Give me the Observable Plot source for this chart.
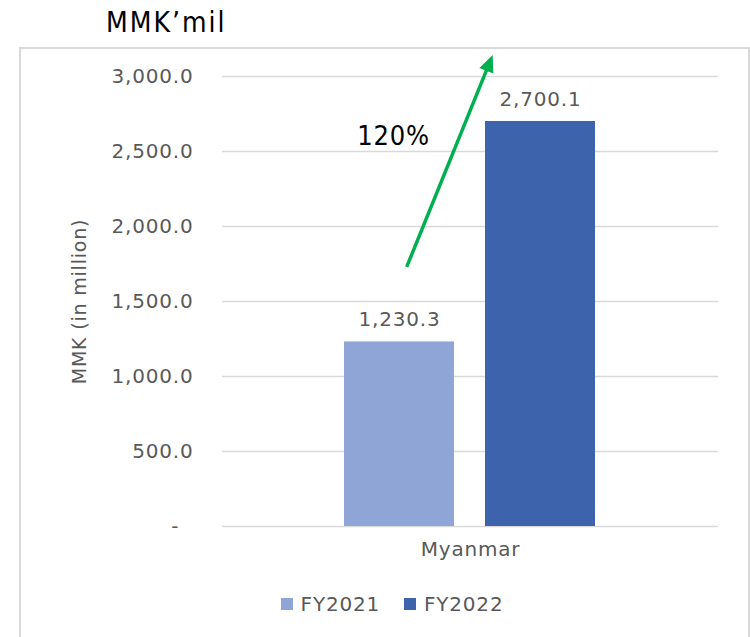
<!DOCTYPE html>
<html>
<head>
<meta charset="utf-8">
<script src="https://cdn.jsdelivr.net/npm/d3@7"></script>
<script src="https://cdn.jsdelivr.net/npm/@observablehq/plot@0.6"></script>
<style>
  html, body { margin: 0; padding: 0; background: #fff; }
  #page { position: relative; width: 750px; height: 637px; overflow: hidden; }
  #box { position: absolute; left: 19px; top: 47px; width: 727px; height: 600px; border: 2px solid #d9d9d9; }
  #title { position: absolute; left: 106px; top: 6px; font-family: "DejaVu Sans Condensed", "DejaVu Sans", sans-serif; font-stretch: condensed; font-size: 28px; letter-spacing: 2px; color: #000; }
  #chart { position: absolute; left: 0; top: 0; }
  #legend { position: absolute; left: 32px; width: 720px; top: 592px; display: flex; justify-content: center; align-items: center;
            font-family: "DejaVu Sans", sans-serif; font-size: 20px; letter-spacing: 0.8px; color: #595959; }
  .sw { width: 12px; height: 12px; margin-right: 8px; }
  .item { display: flex; align-items: center; margin: 0 12px; }
</style>
</head>
<body>
<div id="page">
  <div id="box"></div>
  <div id="chart"></div>
  <div id="title"></div>
  <div id="legend"></div>
</div>
<script>
// ---- data ----
const titleText = "MMK’mil";
const yLabel = "MMK (in million)";
const categories = ["Myanmar"];
const years = ["FY2021", "FY2022"];
const values = [1230.3, 2700.1];
const colors = ["#8EA5D5", "#3C63AC"];
const yTicks = [0, 500, 1000, 1500, 2000, 2500, 3000];
const growthLabel = ["120%"];
const growthLabelValue = [2600];
// arrow annotation: positions as fraction within band + value on y scale
const arrowFromYear = ["FY2021"];
const arrowFromPos = [0.57];
const arrowFromValue = [1727];
const arrowToYear = ["FY2022"];
const arrowToPos = [0.07];
const arrowToValue = [3140];

const data = years.map((y, i) => ({ year: y, value: values[i], category: categories[0] }));
const fmt = d3.format(",.1f");

const chart = Plot.plot({
  width: 750,
  height: 637,
  marginLeft: 222,
  marginRight: 32,
  marginTop: 76,
  marginBottom: 111,
  style: { fontFamily: "DejaVu Sans, sans-serif", fontSize: "20px", color: "#595959", letterSpacing: "0.8px", background: "transparent", overflow: "visible" },
  x: { domain: years, paddingInner: 0.219, paddingOuter: 0.862, axis: null },
  y: { domain: [0, 3000], axis: null },
  color: { domain: years, range: colors },
  marks: [
    Plot.ruleY(yTicks, { stroke: "#d9d9d9", strokeWidth: 1.4 }),
    Plot.axisY({
      ticks: yTicks,
      tickSize: 0,
      tickPadding: 29,
      tickFormat: d => d === 0 ? "-\u00a0\u00a0" : fmt(d),
      fontSize: 20,
      label: null
    }),
    Plot.barY(data, { x: "year", y: "value", fill: "year" }),
    Plot.text(data, { x: "year", y: "value", text: d => fmt(d.value), dy: -22, fontSize: 20, fill: "#595959" }),
    Plot.text(categories, { text: d => d, frameAnchor: "bottom", dy: 29, fontSize: 20, fill: "#595959" }),
    Plot.text([yLabel], { text: d => d, frameAnchor: "left", textAnchor: "middle", rotate: -90, dx: -143, fontSize: 19, fill: "#595959", letterSpacing: "0.5px" }),
    Plot.text(growthLabel, { x: () => arrowFromYear[0], y: (d, i) => growthLabelValue[i], text: d => d, dx: -6,
      fontFamily: "DejaVu Sans Condensed, DejaVu Sans, sans-serif", fontStretch: "condensed", fontSize: 27, fill: "#000", letterSpacing: "0px" })
  ]
});

document.getElementById("chart").appendChild(chart);
document.getElementById("title").textContent = titleText;

// arrow drawn from annotation arrays through the plot's own scales
const xs = chart.scale("x"), ys = chart.scale("y");
const svg = d3.select(chart);
arrowFromYear.forEach((fy, i) => {
  const x1 = xs.apply(fy) + arrowFromPos[i] * xs.bandwidth;
  const y1 = ys.apply(arrowFromValue[i]);
  const x2 = xs.apply(arrowToYear[i]) + arrowToPos[i] * xs.bandwidth;
  const y2 = ys.apply(arrowToValue[i]);
  const len = Math.hypot(x2 - x1, y2 - y1);
  const ux = (x2 - x1) / len, uy = (y2 - y1) / len;
  const headLen = 17, headHalf = 7.5;
  const bx = x2 - ux * headLen, by = y2 - uy * headLen;
  const g = svg.append("g").attr("fill", "#00B050").attr("stroke", "#00B050");
  g.append("line").attr("x1", x1).attr("y1", y1).attr("x2", bx + ux * 2).attr("y2", by + uy * 2).attr("stroke-width", 3.5);
  g.append("polygon").attr("stroke", "none")
    .attr("points", [[x2, y2], [bx - uy * headHalf, by + ux * headHalf], [bx + uy * headHalf, by - ux * headHalf]].map(p => p.join(",")).join(" "));
});

// legend
const legend = document.getElementById("legend");
years.forEach((y, i) => {
  const item = document.createElement("div");
  item.className = "item";
  const sw = document.createElement("div");
  sw.className = "sw";
  sw.style.background = colors[i];
  const t = document.createElement("span");
  t.textContent = y;
  item.appendChild(sw);
  item.appendChild(t);
  legend.appendChild(item);
});
</script>
</body>
</html>
